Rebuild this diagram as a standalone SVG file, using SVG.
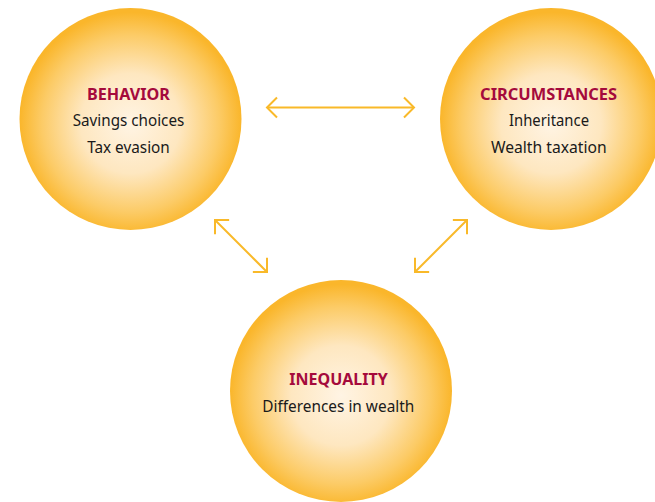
<svg xmlns="http://www.w3.org/2000/svg" width="655" height="502" viewBox="0 0 655 502">
  <defs>
    <radialGradient id="glow" cx="50%" cy="52%" r="50%">
      <stop offset="0" stop-color="#FFF4E4"/>
      <stop offset="0.45" stop-color="#FEE7C0"/>
      <stop offset="0.8" stop-color="#FCCB66"/>
      <stop offset="1" stop-color="#FAB62B"/>
    </radialGradient>
    <!-- open chevron head, drawn pointing along +x; reversed at the line start -->
    <marker id="head" viewBox="0 0 24 24" refX="20" refY="12" markerWidth="24" markerHeight="24" markerUnits="userSpaceOnUse" orient="auto-start-reverse">
      <path d="M10,2 L20,12 L10,22" fill="none" stroke="#F9B929" stroke-width="2"/>
    </marker>
  </defs>
  <style>
    .bubble { fill: url(#glow); }
    .title { font-family: "Noto Sans", "Open Sans", sans-serif; font-weight: bold; font-size: 16px; fill: #A50A3C; text-anchor: middle; }
    .item { font-family: "Noto Sans", "Open Sans", sans-serif; font-size: 16px; fill: #1A1A1A; text-anchor: middle; }
    .link { stroke: #F9B929; stroke-width: 2; fill: none; marker-start: url(#head); marker-end: url(#head); }
  </style>
  <rect width="655" height="502" fill="#FFFFFF"/>

  <g id="connectors">
    <line class="link" x1="267" y1="107.5" x2="414" y2="107.5"/>
    <line class="link" x1="215" y1="220" x2="267" y2="272"/>
    <line class="link" x1="467" y1="220" x2="415" y2="272"/>
  </g>

  <g id="behavior">
    <circle class="bubble" cx="130.5" cy="119" r="111"/>
    <text class="title" x="128.5" y="100" textLength="83" lengthAdjust="spacingAndGlyphs">BEHAVIOR</text>
    <text class="item" x="128.5" y="126" textLength="111.6" lengthAdjust="spacingAndGlyphs">Savings choices</text>
    <text class="item" x="128.5" y="152.5" textLength="82.7" lengthAdjust="spacingAndGlyphs">Tax evasion</text>
  </g>

  <g id="circumstances">
    <circle class="bubble" cx="551" cy="119" r="111"/>
    <text class="title" x="548.6" y="100" textLength="137" lengthAdjust="spacingAndGlyphs">CIRCUMSTANCES</text>
    <text class="item" x="549" y="126" textLength="80" lengthAdjust="spacingAndGlyphs">Inheritance</text>
    <text class="item" x="548.8" y="152.5" textLength="115.7" lengthAdjust="spacingAndGlyphs">Wealth taxation</text>
  </g>

  <g id="inequality">
    <circle class="bubble" cx="341" cy="391" r="111"/>
    <text class="title" x="338.5" y="385" textLength="98.4" lengthAdjust="spacingAndGlyphs">INEQUALITY</text>
    <text class="item" x="338.3" y="411.7" textLength="152" lengthAdjust="spacingAndGlyphs">Differences in wealth</text>
  </g>
</svg>
